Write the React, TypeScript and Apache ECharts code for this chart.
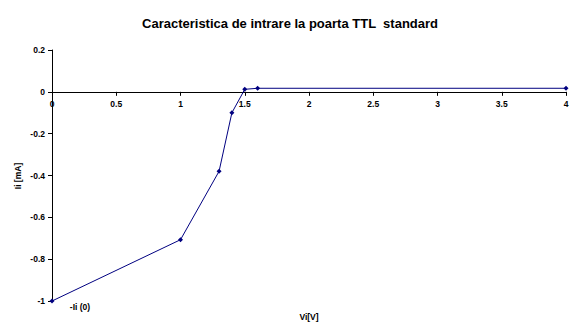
import React, { useEffect, useRef } from "react";
import * as echarts from "echarts";

const titleText = "Caracteristica de intrare la poarta TTL  standard";
const xName = "Vi[V]";
const yName = "Ii [mA]";
const annotation = "-Ii (0)";
const viValues = [0, 1, 1.3, 1.4, 1.5, 1.6, 4];
const iiValues = [-1, -0.707, -0.38, -0.1, 0.012, 0.017, 0.017];
const yMin = -1;
const yMax = 0.2;

const FONT = "'Liberation Sans', Arial, sans-serif";
const GRID_TOP = 50;
const GRID_BOTTOM = 32;
const HEIGHT = 333;

export default function App() {
  const ref = useRef<HTMLDivElement>(null);
  useEffect(() => {
    if (!ref.current) return;
    const chart = echarts.init(ref.current, null, { renderer: "svg" });
    const data = viValues.map((v, i) => [v, iiValues[i]]);
    const plotH = HEIGHT - GRID_TOP - GRID_BOTTOM;
    const zeroOffset = -((0 - yMin) / (yMax - yMin)) * plotH;
    chart.setOption({
      animation: false,
      backgroundColor: "#ffffff",
      grid: { left: 52, right: 16, top: GRID_TOP, bottom: GRID_BOTTOM, outerBoundsMode: "none" },
      xAxis: {
        type: "value",
        min: 0,
        max: 4,
        interval: 0.5,
        offset: zeroOffset,
        axisLine: { onZero: false, lineStyle: { color: "#000", width: 1 } },
        axisTick: { length: 4, lineStyle: { color: "#000" } },
        axisLabel: {
          color: "#000",
          fontFamily: FONT,
          fontWeight: "bold",
          fontSize: 8.5,
          margin: 8,
          showMinLabel: true,
          showMaxLabel: true,
          formatter: (v: number) => String(Math.round(v * 10) / 10),
        },
        splitLine: { show: false },
      },
      yAxis: {
        type: "value",
        min: yMin,
        max: yMax,
        interval: 0.2,
        axisLine: { show: true, onZero: false, lineStyle: { color: "#000", width: 1 } },
        axisTick: { show: true, length: 4, lineStyle: { color: "#000" } },
        axisLabel: {
          color: "#000",
          fontFamily: FONT,
          fontWeight: "bold",
          fontSize: 8.5,
          margin: 7,
          formatter: (v: number) => String(Math.round(v * 10) / 10),
        },
        splitLine: { show: false },
      },
      series: [
        {
          type: "line",
          data,
          color: "#000080",
          lineStyle: { color: "#000080", width: 1 },
          symbol: "diamond",
          symbolSize: 5,
          itemStyle: { color: "#000080" },
          z: 5,
        },
      ],
      graphic: [
        {
          type: "text",
          x: 290,
          y: 23,
          style: {
            text: titleText,
            fontFamily: FONT,
            fontWeight: "bold",
            fontSize: 13,
            fill: "#000",
            align: "center",
            verticalAlign: "middle",
          },
        },
        {
          type: "text",
          x: 309,
          y: 317,
          style: {
            text: xName,
            fontFamily: FONT,
            fontWeight: "bold",
            fontSize: 8.5,
            fill: "#000",
            align: "center",
            verticalAlign: "middle",
          },
        },
        {
          type: "text",
          x: 18,
          y: 176,
          rotation: Math.PI / 2,
          style: {
            text: yName,
            fontFamily: FONT,
            fontWeight: "bold",
            fontSize: 8.5,
            fill: "#000",
            align: "center",
            verticalAlign: "middle",
          },
        },
        {
          type: "text",
          x: 80,
          y: 307,
          style: {
            text: annotation,
            fontFamily: FONT,
            fontWeight: "bold",
            fontSize: 8.5,
            fill: "#000",
            align: "center",
            verticalAlign: "middle",
          },
        },
      ],
    });
    return () => chart.dispose();
  }, []);
  return (
    <div
      ref={ref}
      style={{ position: "fixed", left: 0, top: 0, width: 582, height: 333, background: "#fff" }}
    />
  );
}
